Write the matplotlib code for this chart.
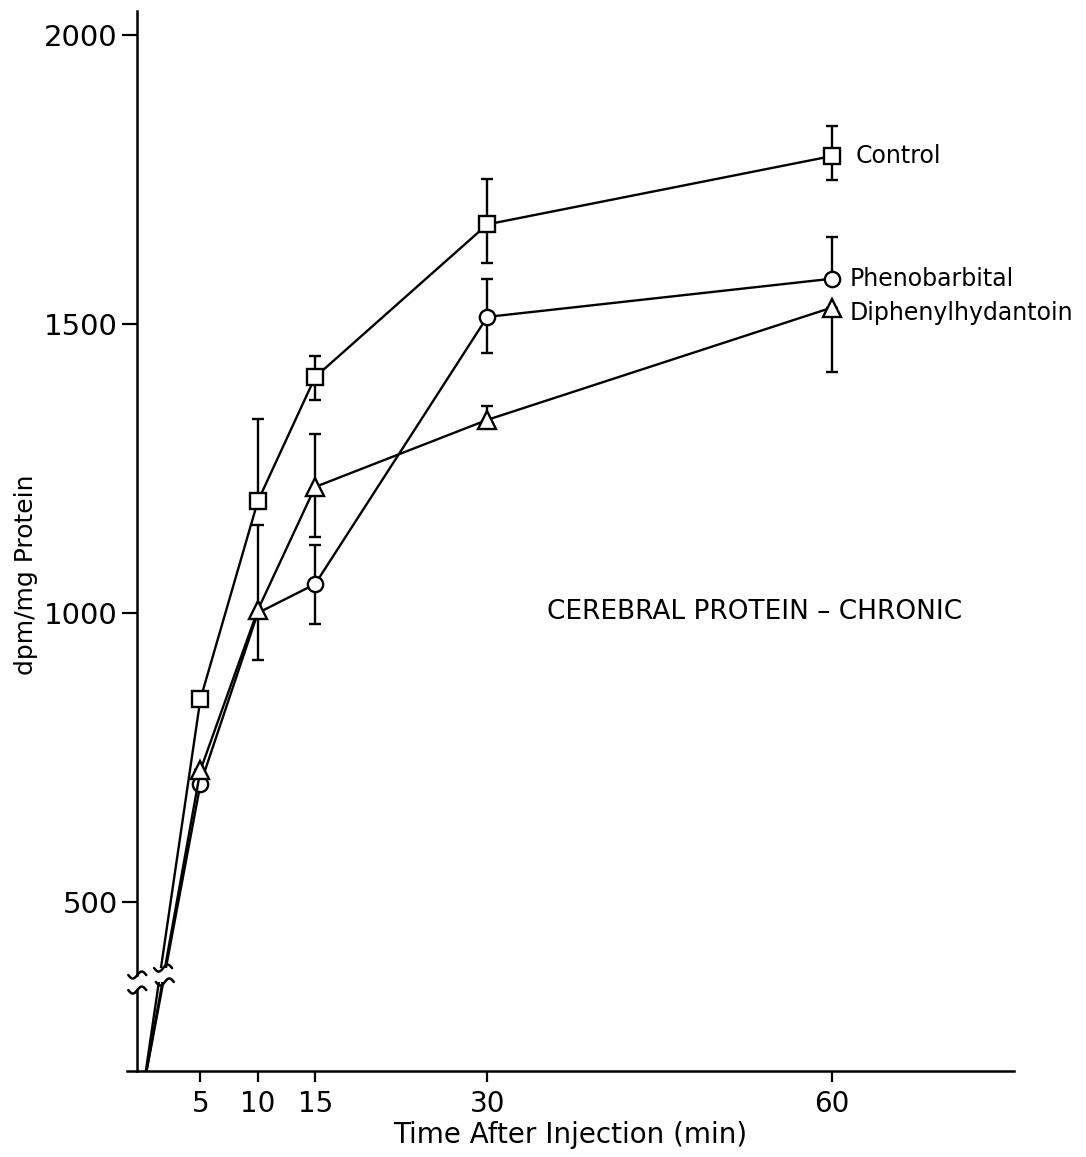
import numpy as np
import matplotlib
matplotlib.use("Agg")
import matplotlib.pyplot as plt

# time after injection (min)
times = [0, 5, 10, 15, 30, 60]

# dpm/mg protein (0 = half of the bar not drawn)
control = [175, 851, 1193, 1408, 1672, 1790]
control_lo = [0, 0, 0, 40, 66, 42]
control_hi = [0, 0, 143, 37, 78, 52]

pheno = [175, 704, 1000, 1050, 1512, 1578]
pheno_lo = [0, 0, 0, 69, 62, 0]
pheno_hi = [0, 0, 0, 68, 66, 72]

dph = [175, 728, 1005, 1218, 1334, 1528]
dph_lo = [0, 0, 86, 87, 14, 111]
dph_hi = [0, 0, 147, 92, 24, 0]

series_names = ["Control", "Phenobarbital", "Diphenylhydantoin"]
xtick_vals = [5, 10, 15, 30, 60]
ytick_vals = [500, 1000, 1500, 2000]

plt.rcParams["font.family"] = ["DejaVu Sans"]

fig = plt.figure(figsize=(10.86, 11.57), dpi=100)
ax = fig.add_axes([0.1169, 0.0743, 0.8168, 0.9162])
xmin, xmax = -1.4, 75.9
ymin, ymax = 208, 2041
ax.set_xlim(xmin, xmax)
ax.set_ylim(ymin, ymax)

lw = 1.7
kw = dict(color="black", lw=lw, mfc="white", mec="black", mew=1.7, clip_on=True)

# error bars first, markers drawn on top
for y, lo, hi in [(control, control_lo, control_hi), (pheno, pheno_lo, pheno_hi), (dph, dph_lo, dph_hi)]:
    ax.errorbar(times[1:], y[1:], yerr=[lo[1:], hi[1:]], fmt="none", ecolor="black",
                elinewidth=lw, capsize=4.5, capthick=lw, zorder=2)

ax.plot(times, pheno, marker="o", ms=11, markevery=[1, 3, 4, 5], zorder=3, **kw)
ax.plot(times, dph, marker="^", ms=13, markevery=[1, 2, 3, 4, 5], zorder=4, **kw)
ax.plot(times, control, marker="s", ms=12, markevery=[1, 2, 3, 4, 5], zorder=5, **kw)

# series labels next to the last point
ax.annotate(series_names[0], (times[-1], control[-1]), xytext=(17, 0), textcoords="offset points",
            va="center", ha="left", fontsize=17)
ax.annotate(series_names[1], (times[-1], pheno[-1]), xytext=(13, 0), textcoords="offset points",
            va="center", ha="left", fontsize=17)
ax.annotate(series_names[2], (times[-1], dph[-1]), xytext=(13, -4), textcoords="offset points",
            va="center", ha="left", fontsize=17)

ax.text(0.707, 0.433, "CEREBRAL PROTEIN \u2013 CHRONIC", transform=ax.transAxes,
        ha="center", va="center", fontsize=19)

# axes styling
for s in ["top", "right"]:
    ax.spines[s].set_visible(False)
ax.spines["left"].set_position(("data", -0.5))
ax.spines["left"].set_bounds(374, ymax)
ax.spines["left"].set_linewidth(1.8)
ax.spines["bottom"].set_linewidth(1.8)
ax.plot([-0.5, -0.5], [ymin, 348], color="black", lw=1.8, clip_on=False, zorder=6)

ax.set_xticks(xtick_vals)
ax.set_xticklabels([str(v) for v in xtick_vals])
ax.set_yticks(ytick_vals)
ax.set_yticklabels([str(v) for v in ytick_vals])
ax.tick_params(axis="x", length=8, width=1.6, pad=6, labelsize=20)
ax.tick_params(axis="y", length=11, width=1.6, pad=3, labelsize=21)

ax.set_xlabel("Time After Injection (min)", fontsize=20, labelpad=2)
ax.set_ylabel("dpm/mg Protein", fontsize=18)
ax.yaxis.set_label_coords(-0.1, 0.468)

# scale break marks
px_x = (xmax - xmin) / (0.8168 * 1086)
px_y = (ymax - ymin) / (0.9162 * 1157)


def wave(xc, yc, width=18, amp=3.5):
    t = np.linspace(-1, 1, 40)
    ax.plot(xc + t * width / 2 * px_x, yc + amp * np.sin(np.pi * t) * px_y,
            color="black", lw=1.8, clip_on=False, zorder=8, solid_capstyle="round")


# gap in the data lines
ax.fill_between([0.9, 2.6], 362, 386, color="white", zorder=7, lw=0)
wave(-0.5, 374)
wave(-0.5, 348)
wave(1.75, 386)
wave(1.9, 362)

fig.savefig("out.png", dpi=100)
